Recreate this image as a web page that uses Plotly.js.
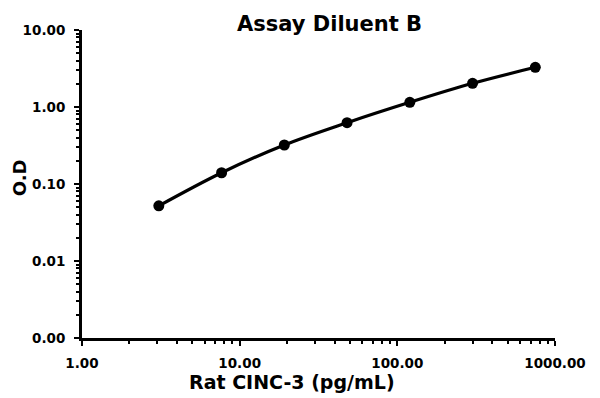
<!DOCTYPE html>
<html>
<head>
<meta charset="utf-8">
<script src="https://cdn.plot.ly/plotly-3.0.1.min.js"></script>
<style>html,body{margin:0;padding:0;background:#fff;}#chart{width:600px;height:398px;}</style>
</head>
<body>
<div id="chart"></div>
<script>
// Data
const concentration = [3.07, 7.68, 19.2, 48, 120, 300, 750];   // Rat CINC-3 (pg/mL)
const opticalDensity = [0.052, 0.140, 0.321, 0.625, 1.15, 2.03, 3.28]; // O.D

const xTickVals = [1, 10, 100, 1000];
const xTickText = ["1.00", "10.00", "100.00", "1000.00"];
const yTickVals = [0.001, 0.01, 0.1, 1, 10];
const yTickText = ["0.00", "0.01", "0.10", "1.00", "10.00"];

const chartTitle = "Assay Diluent B";
const xTitle = "Rat CINC-3 (pg/mL)";
const yTitle = "O.D";

function minorVals(startDecade, endDecade) {
  const v = [];
  for (let d = startDecade; d < endDecade; d++) {
    for (let m = 2; m <= 9; m++) v.push(m * Math.pow(10, d));
  }
  return v;
}

const FONT = "DejaVu Sans, Arial, sans-serif";

const trace = {
  x: concentration,
  y: opticalDensity,
  type: "scatter",
  mode: "lines+markers",
  line: {color: "#000", width: 3.2, shape: "spline", smoothing: 1},
  marker: {color: "#000", size: 11},
  hoverinfo: "skip"
};

const axisCommon = {
  type: "log",
  showline: true,
  linecolor: "#000",
  linewidth: 3,
  showgrid: false,
  zeroline: false,
  ticks: "outside",
  ticklen: 5,
  tickwidth: 2,
  tickcolor: "#000",
  tickmode: "array",
  tickfont: {family: FONT, size: 13.5, color: "#000", weight: "bold"},
  ticklabelstandoff: 6
};

const layout = {
  width: 600,
  height: 398,
  margin: {l: 82, r: 45, t: 30, b: 60},
  paper_bgcolor: "#fff",
  plot_bgcolor: "#fff",
  showlegend: false,
  xaxis: Object.assign({}, axisCommon, {
    range: [0, 3],
    tickvals: xTickVals,
    ticktext: xTickText,
    minor: {tickmode: "array", tickvals: minorVals(0, 3), ticks: "outside", ticklen: 3, tickwidth: 2, tickcolor: "#000", showgrid: false}
  }),
  yaxis: Object.assign({}, axisCommon, {
    range: [-3, 1],
    tickvals: yTickVals,
    ticktext: yTickText,
    minor: {tickmode: "array", tickvals: minorVals(-3, 1), ticks: "outside", ticklen: 3, tickwidth: 2, tickcolor: "#000", showgrid: false}
  }),
  annotations: [
    {text: chartTitle, xref: "paper", yref: "paper", x: 0.5243, y: 1.019, xanchor: "center", yanchor: "middle", showarrow: false,
     font: {family: FONT, size: 21, color: "#000", weight: "bold"}},
    {text: xTitle, xref: "paper", yref: "paper", x: 0.443, y: -0.143, xanchor: "center", yanchor: "middle", showarrow: false,
     font: {family: FONT, size: 19, color: "#000", weight: "bold"}},
    {text: yTitle, xref: "paper", yref: "paper", x: -0.133, y: 0.519, xanchor: "center", yanchor: "middle", showarrow: false, textangle: -90,
     font: {family: FONT, size: 18, color: "#000", weight: "bold"}}
  ]
};

Plotly.newPlot("chart", [trace], layout, {staticPlot: true, displayModeBar: false});
</script>
</body>
</html>
